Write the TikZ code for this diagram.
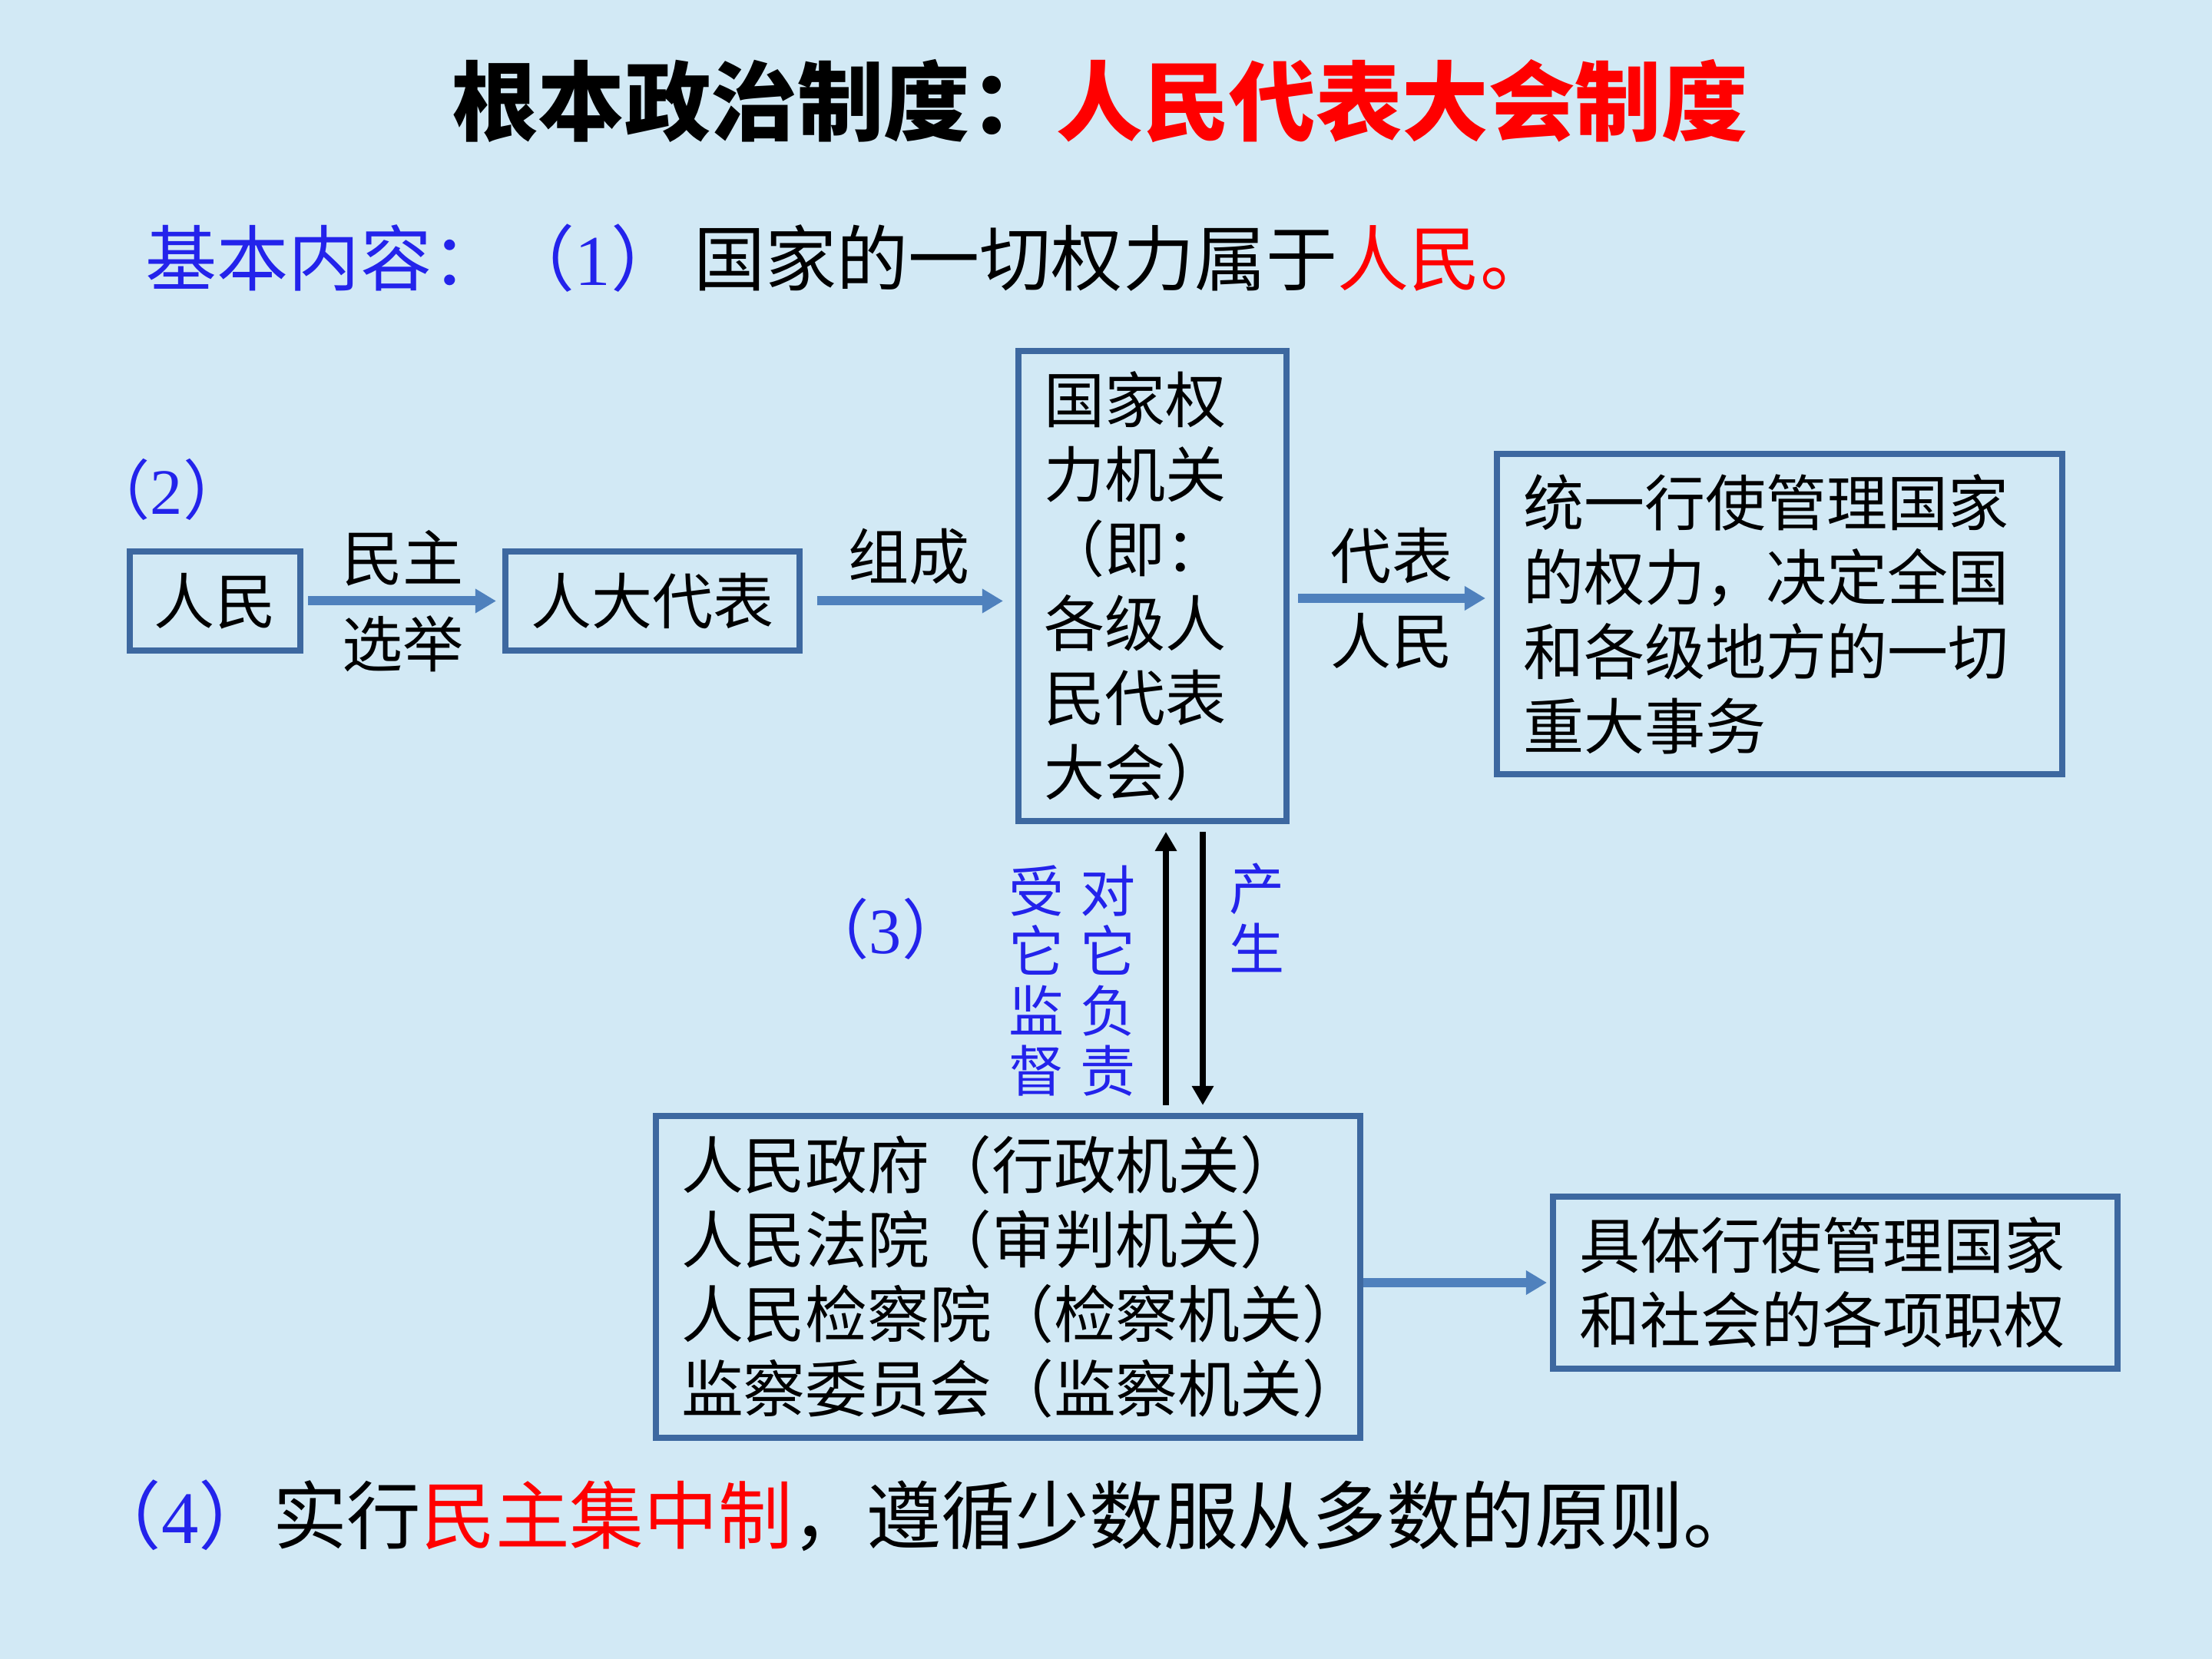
\documentclass[tikz,border=0pt]{standalone}
\usepackage{fontspec}
\setmainfont{Noto Sans CJK SC}
\newfontfamily\digitfont{Liberation Serif}
\usetikzlibrary{arrows.meta,positioning}

\definecolor{bgblue}{RGB}{210,233,245}
\definecolor{boxblue}{RGB}{61,104,160}
\definecolor{arrowblue}{RGB}{79,129,189}
\definecolor{lblblue}{RGB}{35,35,235}

\tikzset{
  box/.style={draw=boxblue, line width=2.3pt, inner sep=0pt, font=\fontsize{22.5}{27.6}\selectfont},
  boxleft/.style={box, align=left, inner xsep=0.34cm},
  bluearrow/.style={draw=arrowblue, line width=3.4pt, -{Triangle[width=0.3cm,length=0.27cm]}},
  blackarrow/.style={draw=black, line width=2.3pt, -{Triangle[width=0.27cm,length=0.25cm]}},
  lbl/.style={inner sep=0.05cm, font=\fontsize{22.5}{27.6}\selectfont},
  vlbl/.style={text=lblblue, align=center, inner sep=0pt, font=\fontsize{20.5}{22.2}\selectfont},
  numlbl/.style={text=lblblue, inner sep=0pt, font=\fontsize{24}{28}\selectfont},
  line/.style={anchor=west, inner sep=0pt, font=\fontsize{26.5}{31}\selectfont}
}

\begin{document}
\begin{tikzpicture}
    % Background
    \useasboundingbox (0,0) rectangle (28.8,21.6);
    \fill[bgblue] (0,0) rectangle (28.8,21.6);

    % Title lines
    \node[inner sep=0pt, font=\fontsize{32}{38}\selectfont\bfseries] (title) at (14.32,20.28)
      {根本政治制度：\textcolor{red}{人民代表大会制度}};
    \node[line] (neirong) at (1.89,18.24)
      {\textcolor{lblblue}{基本内容：（{\digitfont 1}）}\hspace{0.15cm}国家的一切权力属于\textcolor{red}{人民。}};

    % Boxes
    \node[box, minimum width=2.22cm, minimum height=1.29cm] (renmin) at (2.80,13.775) {人民};
    \node[box, minimum width=3.83cm, minimum height=1.29cm] (daibiao) at (8.495,13.775) {人大代表};
    \node[boxleft, inner xsep=0.33cm, text width=2.83cm, minimum height=6.12cm] (guojia) at (15.005,13.97)
      {国家权\\力机关\\（即：\\各级人\\民代表\\大会）};
    \node[boxleft, text width=6.68cm, minimum height=4.17cm] (tongyi) at (23.17,13.605)
      {统一行使管理国家\\的权力，决定全国\\和各级地方的一切\\重大事务};
    \node[boxleft, inner xsep=0.33cm, text width=8.51cm, minimum height=4.19cm,
          font=\fontsize{23}{27.6}\selectfont] (jiguan) at (13.125,4.975)
      {人民政府（行政机关）\\人民法院（审判机关）\\人民检察院（检察机关）\\监察委员会（监察机关）};
    \node[boxleft, text width=6.67cm, minimum height=2.24cm] (juti) at (23.895,4.90)
      {具体行使管理国家\\和社会的各项职权};

    % Arrows
    \draw[bluearrow, shorten <=0.06cm, shorten >=0.08cm] (renmin) -- (daibiao)
      node[lbl, midway, above=0.08cm] (minzhu) {民主}
      node[lbl, midway, below=0.08cm] (xuanju) {选举};
    \draw[bluearrow, shorten <=0.19cm, shorten >=0.16cm] (daibiao.east) -- (daibiao.east -| guojia.west)
      node[lbl, midway, above=0.1cm] (zucheng) {组成};
    \draw[bluearrow, shorten <=0.11cm, shorten >=0.11cm] ([yshift=-0.16cm]guojia.east) -- ([yshift=-0.16cm]guojia.east -| tongyi.west)
      node[lbl, midway, above=0.08cm] (daibiaolbl) {代表}
      node[lbl, midway, below=0.08cm] (renminlbl) {人民};
    \draw[bluearrow, shorten >=0.04cm] (jiguan.east |- juti.west) -- (juti.west);
    \draw[blackarrow, shorten <=0.1cm, shorten >=0.1cm] ([xshift=0.175cm]guojia.south |- jiguan.north) -- ([xshift=0.175cm]guojia.south);
    \draw[blackarrow, shorten <=0.1cm, shorten >=0.1cm] ([xshift=0.655cm]guojia.south) -- ([xshift=0.655cm]guojia.south |- jiguan.north);

    % Labels
    \node[numlbl] (two) at (2.17,15.23) {（{\digitfont 2}）};
    \node[numlbl] (three) at (11.53,9.51) {（{\digitfont 3}）};
    \node[vlbl] (jiandu) at (13.50,8.83) {受\\它\\监\\督};
    \node[vlbl] (fuze) at (14.43,8.83) {对\\它\\负\\责};
    \node[vlbl] (chansheng) at (16.37,9.65) {产\\生};

    % Bottom line
    \node[line, font=\fontsize{27.5}{32}\selectfont] (zhidu) at (1.13,1.87)
      {\textcolor{lblblue}{（{\digitfont 4}）}实行\textcolor{red}{民主集中制}，遵循少数服从多数的原则。};
\end{tikzpicture}
\end{document}
